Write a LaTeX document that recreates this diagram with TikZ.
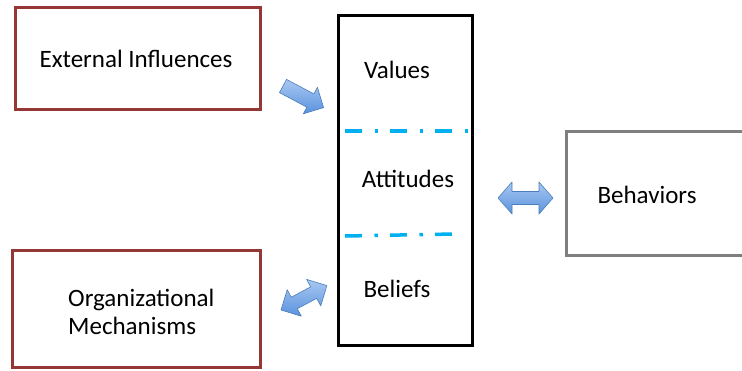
\documentclass[tikz,border=0pt]{standalone}
\usepackage{fontspec}
\setmainfont{Carlito}
\definecolor{boxred}{HTML}{953735}
\definecolor{boxgrey}{HTML}{7F7F7F}
\definecolor{sepcyan}{HTML}{00B0F0}
\definecolor{arrlight}{HTML}{A9C8F2}
\definecolor{arrdark}{HTML}{5A92DE}
\definecolor{arredge}{HTML}{4A7EBB}
\tikzset{
  redbox/.style={draw=boxred, line width=3pt},
  greybox/.style={draw=boxgrey, line width=3pt},
  blackbox/.style={draw=black, line width=3pt},
  sepline/.style={draw=sepcyan, line width=3.5pt, dash pattern=on 17pt off 12.5pt on 3.5pt off 12pt},
  lbl/.style={font=\fontsize{25}{28}\selectfont, inner sep=0pt, text=black},
  blockarrow/.style={draw=arredge, line width=0.6pt, top color=arrlight, bottom color=arrdark, line join=round},
}
\begin{document}
\begin{tikzpicture}[x=1pt,y=-1pt]
\useasboundingbox (0,0) rectangle (742,370);
\fill[white] (0,0) rectangle (742,370);
\clip (0,0) rectangle (742,370);
% boxes
\draw[redbox] (15,7) rectangle (260,109);
\draw[redbox] (12,250) rectangle (260,367);
\draw[blackbox] (338,15) rectangle (472,345);
\draw[greybox] (760,131) -- (566,131) -- (566,255) -- (760,255);
% separators
\draw[sepline] (345,131) -- (470,131);
\draw[sepline] (345,236) -- (455,234);
% labels
\node[lbl] (ext) at (136,59) {External Influences};
\node[lbl, align=left, anchor=west] (org) at (68,312) {Organizational\\Mechanisms};
\node[lbl] (val) at (397,70) {Values};
\node[lbl] (att) at (408,179) {Attitudes};
\node[lbl] (bel) at (397,289) {Beliefs};
\node[lbl] (beh) at (647,195) {Behaviors};
% block arrows
\begin{scope}[shift={(283,86)}, rotate=-28]
  \path[blockarrow] (0,-7.5) -- (31,-7.5) -- (31,-15) -- (46,0) -- (31,15) -- (31,7.5) -- (0,7.5) -- cycle;
\end{scope}
\begin{scope}[shift={(281,310)}, rotate=28]
  \path[blockarrow] (0,0) -- (15,-15) -- (15,-6.5) -- (37,-6.5) -- (37,-15) -- (52,0) -- (37,15) -- (37,6.5) -- (15,6.5) -- (15,15) -- cycle;
\end{scope}
\begin{scope}[shift={(498,198)}]
  \path[blockarrow] (0,0) -- (14,-16) -- (14,-6.5) -- (41,-6.5) -- (41,-16) -- (55,0) -- (41,16) -- (41,6.5) -- (14,6.5) -- (14,16) -- cycle;
\end{scope}
\end{tikzpicture}
\end{document}
